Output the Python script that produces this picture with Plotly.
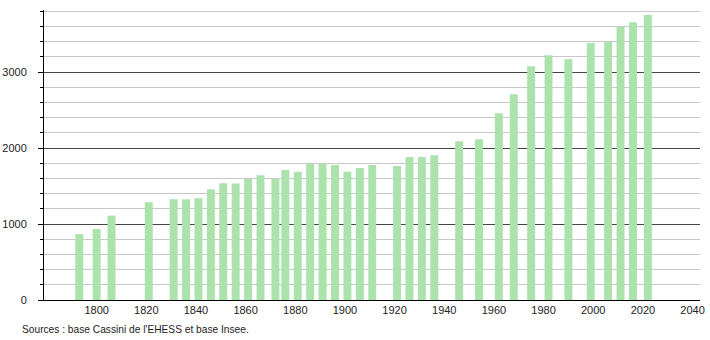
import plotly.graph_objects as go

years = [1793, 1800, 1806, 1821, 1831, 1836, 1841, 1846, 1851, 1856, 1861, 1866,
         1872, 1876, 1881, 1886, 1891, 1896, 1901, 1906, 1911, 1921, 1926, 1931,
         1936, 1946, 1954, 1962, 1968, 1975, 1982, 1990, 1999, 2006, 2011, 2016, 2022]
population = [868, 934, 1110, 1285, 1325, 1325, 1338, 1456, 1535, 1532, 1592, 1640,
              1592, 1710, 1689, 1794, 1794, 1776, 1689, 1737, 1776, 1763, 1882, 1882,
              1904, 2088, 2114, 2456, 2706, 3075, 3219, 3167, 3382, 3399, 3592, 3654, 3750]
y_ticks = [0, 1000, 2000, 3000]
x_ticks = [1800, 1820, 1840, 1860, 1880, 1900, 1920, 1940, 1960, 1980, 2000, 2020, 2040]
source_text = "Sources : base Cassini de l'EHESS et base Insee."

fig = go.Figure()
fig.add_trace(go.Bar(
    x=years, y=population, width=3.2,
    marker=dict(color="rgb(172,226,172)", line=dict(width=0)),
    hoverinfo="x+y",
))

fig.update_layout(
    width=710, height=340,
    margin=dict(l=44, r=10, t=10, b=40, autoexpand=False),
    paper_bgcolor="white", plot_bgcolor="white",
    showlegend=False,
    font=dict(family="Liberation Sans, Arial, sans-serif", size=11, color="#222"),
    xaxis=dict(
        range=[1778.8, 2043], tickvals=x_ticks, ticktext=[str(v) for v in x_ticks],
        showgrid=False, zeroline=False, showline=True, linecolor="black", linewidth=1,
        ticks="", ticklabelstandoff=0, automargin=False,
    ),
    yaxis=dict(
        range=[0, 3816], tickvals=y_ticks, ticktext=[str(v) for v in y_ticks],
        showgrid=True, gridcolor="#444", gridwidth=1,
        zeroline=False, showline=True, linecolor="black", linewidth=1,
        ticks="outside", ticklen=5, tickcolor="black", ticklabelstandoff=9,
        automargin=False,
        minor=dict(dtick=200, showgrid=True, gridcolor="#c8c8c8", gridwidth=1,
                   ticks="outside", ticklen=3, tickcolor="black"),
    ),
    annotations=[dict(
        text=source_text, xref="paper", yref="paper", x=-24/656, y=-29/290,
        xanchor="left", yanchor="middle", showarrow=False,
        font=dict(size=10.2, color="#222"),
    )],
)

fig.write_html("out.html")
